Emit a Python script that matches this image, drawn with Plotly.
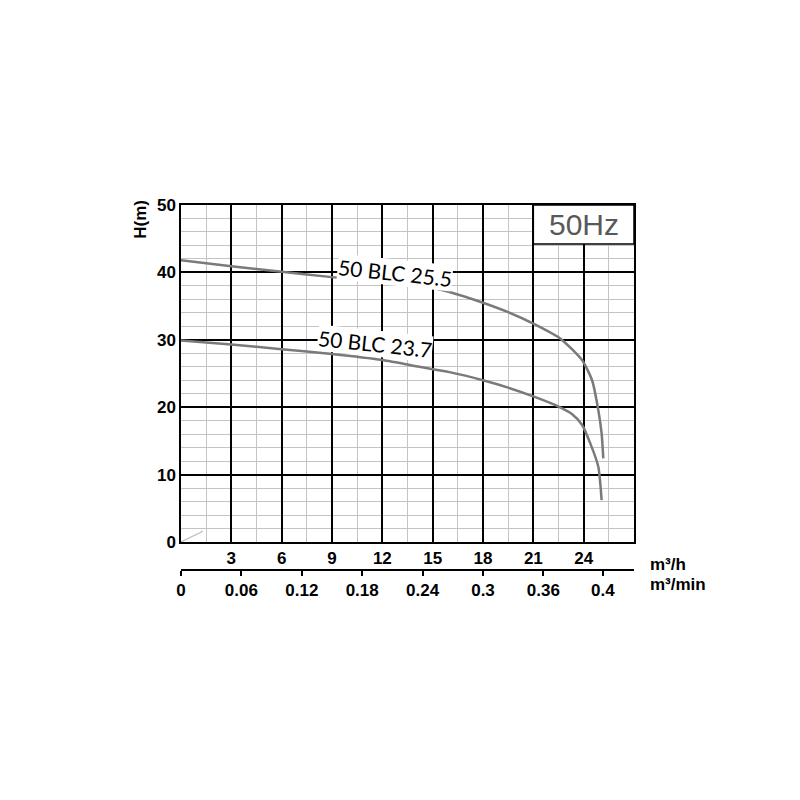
import plotly.graph_objects as go

# ---- data ----
q_255 = [0, 3, 6, 9, 12, 14.2, 16, 18, 19.5, 21, 22.6, 23.9, 24.5, 24.87, 25.07, 25.17]
h_255 = [41.8, 40.9, 40.1, 39.3, 38.6, 38.1, 37.1, 35.5, 34.1, 32.4, 30.2, 27.0, 24.0, 19.6, 16.1, 12.4]

q_237 = [0, 3, 6, 9, 12, 14.2, 16, 18, 19.5, 21, 22.5, 23.3, 23.9, 24.4, 24.87, 25.07]
h_237 = [29.9, 29.3, 28.6, 27.9, 27.0, 26.0, 25.2, 24.0, 22.9, 21.6, 20.1, 19.0, 17.4, 14.6, 11.2, 6.2]

curve_names = ["50 BLC 25.5", "50 BLC 23.7"]
label_pos = [(12.75, 40.0), (11.56, 29.4)]

q_ticks = [3, 6, 9, 12, 15, 18, 21, 24]
h_ticks = [0, 10, 20, 30, 40, 50]
min_tick_vals = [0, 0.06, 0.12, 0.18, 0.24, 0.3, 0.36, 0.419]
min_tick_text = ["0", "0.06", "0.12", "0.18", "0.24", "0.3", "0.36", "0.4"]

Q_MAX = 27
H_MAX = 50

BOLD = dict(family="Liberation Sans, Arial, sans-serif", size=17, color="black", weight=700)
CURVE_COLOR = "#7a7a7a"

fig = go.Figure()
for q, h, name in [(q_255, h_255, curve_names[0]), (q_237, h_237, curve_names[1])]:
    fig.add_trace(go.Scatter(x=q, y=h, mode="lines", name=name,
                             line=dict(color=CURVE_COLOR, width=2.5, shape="spline", smoothing=0.6),
                             showlegend=False, hoverinfo="skip"))

for name, (lx, ly) in zip(curve_names, label_pos):
    fig.add_annotation(x=lx, y=ly, text=name, showarrow=False, textangle=6,
                       font=dict(family="Lato, Noto Sans, sans-serif", size=21, color="black"),
                       bgcolor="white", borderpad=0)

# small diagonal stroke at the origin
fig.add_shape(type="line", x0=0, y0=0, x1=1.3, y1=1.6, xref="x", yref="y",
              line=dict(color="#bdbdbd", width=1.2))

# 50Hz box
fig.add_shape(type="rect", x0=21, x1=Q_MAX, y0=44.2, y1=H_MAX, xref="x", yref="y",
              fillcolor="white", line=dict(color="black", width=1.5), layer="above")
fig.add_annotation(x=24, y=47.1, text="50Hz", showarrow=False,
                   font=dict(family="Liberation Sans, Arial, sans-serif", size=30, color="#595959"))

fig.update_layout(
    width=800, height=800,
    margin=dict(l=173, r=174, t=197, b=238),
    plot_bgcolor="white", paper_bgcolor="white",
    xaxis=dict(range=[0, Q_MAX], tickvals=q_ticks, ticks="", showgrid=True,
               gridcolor="black", gridwidth=1.5,
               minor=dict(dtick=1.5, tick0=0, showgrid=True, gridcolor="#c4c4c4", gridwidth=1),
               showline=True, linecolor="black", linewidth=1.5, mirror=True,
               tickfont=BOLD, zeroline=False, anchor="y"),
    yaxis=dict(range=[0, H_MAX], tickvals=h_ticks, ticks="", showgrid=True,
               gridcolor="black", gridwidth=1.5,
               minor=dict(dtick=2, tick0=0, showgrid=True, gridcolor="#c4c4c4", gridwidth=1),
               showline=True, linecolor="black", linewidth=1.5, mirror=True,
               tickfont=BOLD, zeroline=False, domain=[28 / 365, 1]),
    xaxis2=dict(range=[0, Q_MAX / 60], overlaying="x", anchor="free", position=0,
                side="bottom", tickvals=min_tick_vals, ticktext=min_tick_text,
                ticks="outside", ticklen=5, tickcolor="black", tickwidth=1.5,
                showline=True, linecolor="black", linewidth=1.5, showgrid=False,
                zeroline=False, tickfont=BOLD),
)
# invisible trace to activate xaxis2
fig.add_trace(go.Scatter(x=[0], y=[0], xaxis="x2", yaxis="y", mode="markers",
                         marker=dict(opacity=0), showlegend=False, hoverinfo="skip"))

fig.add_annotation(x=-0.09, y=1.0, xref="paper", yref="paper", text="H(m)", textangle=-90,
                   showarrow=False, font=BOLD, xanchor="center", yanchor="top", yshift=7)
fig.add_annotation(x=1.031, y=0.0, xref="paper", yref="paper", text="m³/h",
                   showarrow=False, font=BOLD, xanchor="left", yanchor="top", yshift=17)
fig.add_annotation(x=1.031, y=0.0, xref="paper", yref="paper", text="m³/min",
                   showarrow=False, font=BOLD, xanchor="left", yanchor="top", yshift=-3)

fig.write_html("out.html")
